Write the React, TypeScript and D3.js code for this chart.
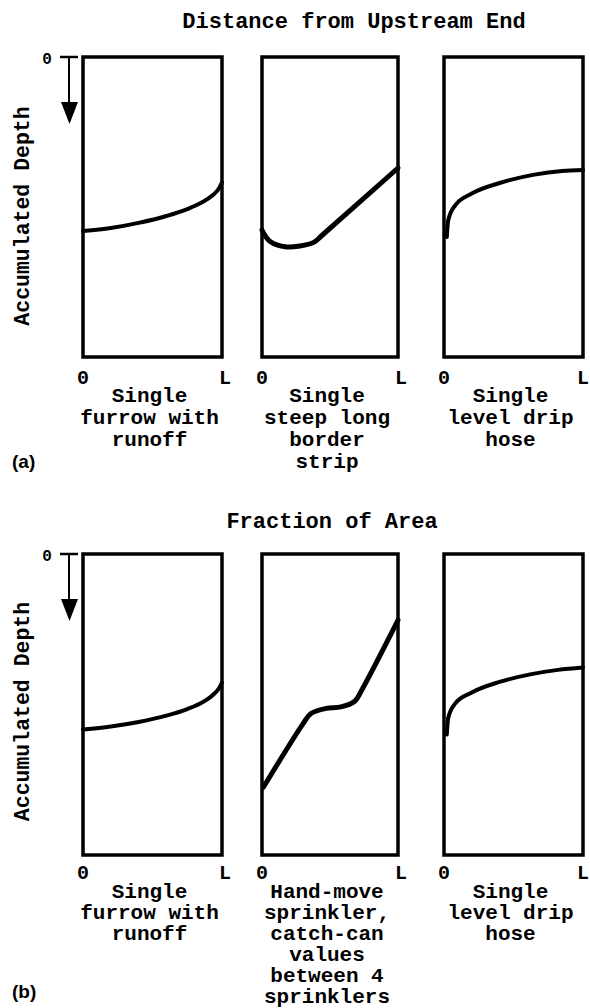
import React from 'react'
import * as d3 from 'd3'

// depth profiles: [fraction of L, fraction of box depth from top]
const furrowA = [[0, 0.58], [0.2, 0.57], [0.4, 0.553], [0.6, 0.53], [0.75, 0.507], [0.85, 0.486], [0.93, 0.462], [0.98, 0.437], [1, 0.418]]
const borderStrip = [[0, 0.577], [0.06, 0.615], [0.18, 0.633], [0.28, 0.63], [0.38, 0.618], [0.44, 0.595], [1, 0.37]]
const dripA = [[0.02, 0.6], [0.03, 0.545], [0.08, 0.495], [0.2, 0.455], [0.4, 0.42], [0.65, 0.392], [0.85, 0.38], [1, 0.377]]

const furrowB = [[0, 0.583], [0.2, 0.573], [0.4, 0.558], [0.6, 0.537], [0.75, 0.515], [0.85, 0.495], [0.93, 0.47], [0.98, 0.445], [1, 0.427]]
const sprinkler = [[0.01, 0.775], [0.3, 0.565], [0.36, 0.53], [0.47, 0.513], [0.58, 0.508], [0.68, 0.49], [0.73, 0.455], [1, 0.22]]
const dripB = [[0.02, 0.6], [0.03, 0.545], [0.08, 0.497], [0.2, 0.46], [0.4, 0.425], [0.62, 0.4], [0.82, 0.385], [1, 0.377]]

const captionsA = [
  ['Single', 'furrow with', 'runoff'],
  ['Single', 'steep long', 'border', 'strip'],
  ['Single', 'level drip', 'hose']
]
const captionsB = [
  ['Single', 'furrow with', 'runoff'],
  ['Hand-move', 'sprinkler,', 'catch-can', 'values', 'between 4', 'sprinklers'],
  ['Single', 'level drip', 'hose']
]
const xTicks = ['0', 'L']

const mono = '"Liberation Mono", "Courier New", monospace'

const columns = [[83, 222], [262, 398], [444, 583]]

const rows = [
  {
    top: 57, bottom: 357, title: 'Distance from Upstream End', titleX: 354, titleY: 28,
    tag: '(a)', tagY: 468, tickY: 384, capY: 402, capStep: 22, labelShift: 9,
    series: [furrowA, borderStrip, dripA], captions: captionsA, widths: [4, 5, 4]
  },
  {
    top: 554, bottom: 855, title: 'Fraction of Area', titleX: 332, titleY: 528,
    tag: '(b)', tagY: 998, tickY: 879, capY: 898, capStep: 21, labelShift: 7,
    series: [furrowB, sprinkler, dripB], captions: captionsB, widths: [4, 5, 4]
  }
]

function Panel({ row, i }) {
  const [x0, x1] = columns[i]
  const x = d3.scaleLinear().domain([0, 1]).range([x0, x1])
  const y = d3.scaleLinear().domain([0, 1]).range([row.top, row.bottom])
  // the kinked profiles keep catmull-rom, the smooth ones use monotone
  const curve = i === 1 ? d3.curveCatmullRom.alpha(0.5) : d3.curveMonotoneX
  const line = d3.line().x(d => x(d[0])).y(d => y(d[1])).curve(curve)
  const cx = (x0 + x1) / 2
  return (
    <g>
      <path d={line(row.series[i])} fill="none" stroke="#000" strokeWidth={row.widths[i]} strokeLinecap="round" />
      <rect x={x0} y={row.top} width={x1 - x0} height={row.bottom - row.top} fill="none" stroke="#000" strokeWidth={3.5} />
      {xTicks.map((t, k) => (
        <text key={t} x={x(k) + (k && i < 2 ? 3 : 0)} y={row.tickY} textAnchor="middle" fontFamily={mono} fontWeight="bold" fontSize={20}>{t}</text>
      ))}
      {row.captions[i].map((c, k) => (
        <text key={k} x={cx - 3} y={row.capY + k * row.capStep} textAnchor="middle" fontFamily={mono} fontWeight="bold" fontSize={21}>{c}</text>
      ))}
    </g>
  )
}

function Row({ row }) {
  const midY = (row.top + row.bottom) / 2 + row.labelShift
  return (
    <g>
      <text x={row.titleX} y={row.titleY} textAnchor="middle" fontFamily={mono} fontWeight="bold" fontSize={22}>{row.title}</text>
      <text transform={`translate(29,${midY}) rotate(-90)`} textAnchor="middle" fontFamily={mono} fontWeight="bold" fontSize={21.5}>Accumulated Depth</text>
      <text x={47} y={row.top + 7} textAnchor="middle" fontFamily={mono} fontWeight="bold" fontSize={16}>0</text>
      <line x1={60} x2={78} y1={row.top} y2={row.top} stroke="#000" strokeWidth={2.5} />
      <line x1={69} x2={69} y1={row.top} y2={row.top + 50} stroke="#000" strokeWidth={2} />
      <path d={`M61,${row.top + 45} L78,${row.top + 45} L69.5,${row.top + 67} Z`} fill="#000" />
      {columns.map((_, i) => <Panel key={i} row={row} i={i} />)}
      <text x={12} y={row.tagY} fontFamily='"Liberation Sans", Arial, sans-serif' fontWeight="bold" fontSize={19}>{row.tag}</text>
    </g>
  )
}

export default function App() {
  return (
    <svg width={590} height={1008} style={{ position: 'absolute', left: 0, top: 0, background: '#fff' }}>
      <rect width={590} height={1008} fill="#fff" />
      {rows.map((r, i) => <Row key={i} row={r} />)}
    </svg>
  )
}
